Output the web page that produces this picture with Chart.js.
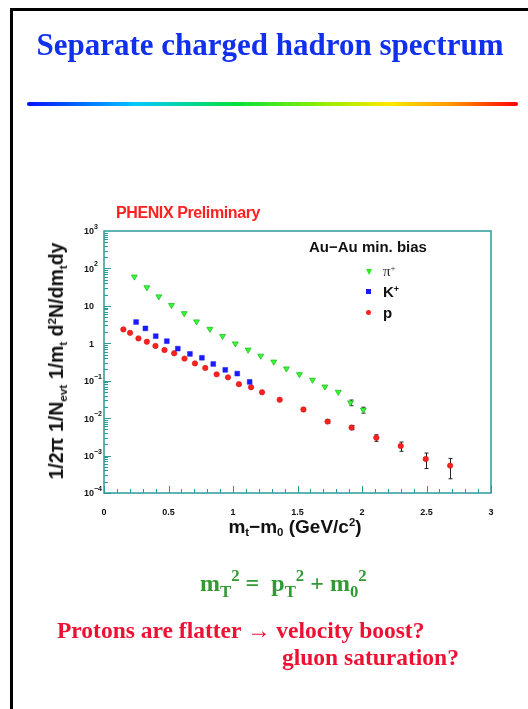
<!DOCTYPE html>
<html>
<head>
<meta charset="utf-8">
<script src="https://cdn.jsdelivr.net/npm/chart.js@4.4.1/dist/chart.umd.min.js"></script>
<style>
  html, body { margin: 0; padding: 0; background: #fff; }
  #page { position: relative; width: 528px; height: 709px; overflow: hidden; }
  #chart { position: absolute; left: 0; top: 0; }
  .txt { position: absolute; white-space: nowrap; }
  .frame-l { position: absolute; left: 10px; top: 8px; width: 3px; height: 710px; background: #000; }
  .frame-t { position: absolute; left: 10px; top: 8px; width: 530px; height: 3px; background: #000; }
  .rule { position: absolute; left: 27px; top: 102px; width: 491px; height: 4px; border-radius: 2px;
    background: linear-gradient(to right, #0010ff 0%, #00c8ff 22%, #00e040 42%, #90ee00 60%, #ffe800 74%, #ff9a00 86%, #ff0000 100%); }
  #title { left: 0; width: 540px; top: 27px; text-align: center; font: bold 31px "Liberation Serif", serif; color: #1030ee; }
  #phenix { left: 116px; top: 204px; font: bold 16px "Liberation Sans", sans-serif; color: #ff2020; letter-spacing: -0.4px; }
  #ytitle { left: 57px; top: 361px; transform: translate(-50%, -50%) rotate(-90deg);
    font: bold 19.5px "Liberation Sans", sans-serif; color: #111; }
  #xtitle { left: 295px; top: 527px; transform: translate(-50%, -50%);
    font: bold 19px "Liberation Sans", sans-serif; color: #111; }
  sub { font-size: 60%; vertical-align: -0.35em; }
  sup { font-size: 60%; vertical-align: 0.6em; }
  #legtitle { left: 309px; top: 238px; font: bold 15px "Liberation Sans", sans-serif; color: #111; }
  .leg { position: absolute; left: 366px; font: bold 15px "Liberation Sans", sans-serif; color: #111; }
  .mk { position: absolute; left: 0; }
  .leg span.t { position: absolute; left: 17px; top: -9px; white-space: nowrap; }
  #formula { left: 200px; top: 566px; font: bold 24px "Liberation Serif", serif; color: #339933; }
  #formula sub, #formula sup { font-size: 70%; }
  .note { font: bold 23.5px "Liberation Serif", serif; color: #ee1133; }
</style>
</head>
<body>
<div id="page">
  <canvas id="chart" width="528" height="709"></canvas>
  <div class="frame-l"></div>
  <div class="frame-t"></div>
  <div class="txt" id="title">Separate charged hadron spectrum</div>
  <div class="rule"></div>
  <div class="txt" id="phenix">PHENIX Preliminary</div>
  <div class="txt" id="ytitle">1/2π 1/N<sub>evt</sub> 1/m<sub>t</sub> d<sup>2</sup>N/dm<sub>t</sub>dy</div>
  <div class="txt" id="xtitle">m<sub>t</sub>−m<sub>0</sub> (GeV/c<sup>2</sup>)</div>
  <div class="txt" id="legtitle">Au−Au min. bias</div>
  <div class="leg" style="top:272px"><span class="mk" style="top:-3px;width:0;height:0;border-left:3px solid transparent;border-right:3px solid transparent;border-top:6px solid #22ee22;"></span><span class="t" style="font:15px 'Liberation Serif',serif;color:#223322;">π<sup>+</sup></span></div>
  <div class="leg" style="top:292px"><span class="mk" style="top:-3px;width:5px;height:5px;background:#1a1aff;"></span><span class="t">K<sup>+</sup></span></div>
  <div class="leg" style="top:313px"><span class="mk" style="top:-3px;width:5px;height:5px;border-radius:50%;background:#ff2020;"></span><span class="t">p</span></div>
  <div class="txt" id="formula">m<sub>T</sub><sup>2</sup> =&nbsp; p<sub>T</sub><sup>2</sup> + m<sub>0</sub><sup>2</sup></div>
  <div class="txt note" style="left:57px;top:617px">Protons are flatter → velocity boost?</div>
  <div class="txt note" style="left:282px;top:644px">gluon saturation?</div>
</div>
<script>
// pi+ spectrum
const piX = [0.235, 0.332, 0.425, 0.523, 0.622, 0.717, 0.821, 0.919, 1.018, 1.117, 1.215, 1.316, 1.414, 1.515, 1.616, 1.712, 1.816, 1.911, 2.010];
const piY = [60, 31, 17.7, 10.4, 6.3, 3.8, 2.4, 1.55, 0.98, 0.67, 0.46, 0.32, 0.21, 0.148, 0.105, 0.069, 0.050, 0.026, 0.0166];
const piErr = [0, 0, 0, 0, 0, 0, 0, 0, 0, 0, 0, 0, 0, 0, 0, 0, 0, 0.0045, 0.003];

// K+ spectrum
const kX = [0.249, 0.321, 0.401, 0.487, 0.572, 0.666, 0.759, 0.847, 0.940, 1.033, 1.129];
const kY = [3.7, 2.5, 1.55, 1.14, 0.72, 0.52, 0.41, 0.28, 0.195, 0.155, 0.093];
const kErr = [0, 0, 0, 0, 0, 0, 0, 0, 0, 0, 0];

// proton spectrum
const pX = [0.150, 0.202, 0.267, 0.332, 0.399, 0.469, 0.544, 0.624, 0.705, 0.785, 0.873, 0.961, 1.046, 1.140, 1.225, 1.362, 1.546, 1.733, 1.919, 2.111, 2.300, 2.494, 2.683];
const pY = [2.35, 1.9, 1.35, 1.1, 0.85, 0.66, 0.54, 0.39, 0.29, 0.22, 0.148, 0.123, 0.081, 0.067, 0.049, 0.031, 0.017, 0.0081, 0.0056, 0.0030, 0.0018, 0.00081, 0.00054];
const pErr = [0, 0, 0, 0, 0, 0, 0, 0, 0, 0, 0, 0, 0, 0, 0, 0, 0.0015, 0.0007, 0.0007, 0.0006, 0.0005, 0.00036, 0.0003];

// axis ticks
const xLabels = [0, 0.5, 1, 1.5, 2, 2.5, 3];
const yDecades = [-4, -3, -2, -1, 0, 1, 2, 3];

function pts(xs, ys, es) {
  return xs.map((x, i) => ({ x: x, y: ys[i], e: es[i] }));
}

const frameColor = '#2a9a9a';

// frame, inward ticks, y labels
const axisPlugin = {
  id: 'axisPlugin',
  afterDraw(chart) {
    const ctx = chart.ctx;
    const a = chart.chartArea;
    const xs = chart.scales.x, ys = chart.scales.y;
    ctx.save();
    ctx.strokeStyle = frameColor;
    ctx.lineWidth = 1.5;
    ctx.strokeRect(a.left, a.top, a.right - a.left, a.bottom - a.top);

    ctx.lineWidth = 1;
    ctx.beginPath();
    // x ticks every 0.1
    for (let i = 0; i <= 30; i++) {
      const px = Math.round(xs.getPixelForValue(i / 10)) + 0.5;
      const len = (i % 5 === 0) ? 7 : 4;
      ctx.moveTo(px, a.bottom);
      ctx.lineTo(px, a.bottom - len);
    }
    // y ticks (log)
    for (let d = -4; d < 3; d++) {
      for (let m = 1; m <= 9; m++) {
        const py = Math.round(ys.getPixelForValue(m * Math.pow(10, d))) + 0.5;
        const len = (m === 1) ? 7 : 4;
        ctx.moveTo(a.left, py);
        ctx.lineTo(a.left + len, py);
      }
    }
    ctx.stroke();

    // y labels
    ctx.fillStyle = '#111';
    ctx.textBaseline = 'middle';
    yDecades.forEach(d => {
      const py = ys.getPixelForValue(Math.pow(10, d));
      let base = '10', ex = String(d).replace('-', '\u2212');
      if (d === 0) { base = '1'; ex = ''; }
      if (d === 1) { ex = ''; }
      ctx.font = 'bold 9px "Liberation Sans", sans-serif';
      ctx.textAlign = 'right';
      ctx.fillText(base, a.left - 10, py + 1);
      if (ex) {
        ctx.font = 'bold 7px "Liberation Sans", sans-serif';
        ctx.textAlign = 'left';
        ctx.fillText(ex, a.left - 10, py - 4);
      }
    });
    ctx.restore();
  },
  beforeDatasetsDraw(chart) {
    const ctx = chart.ctx;
    const ys = chart.scales.y, xs = chart.scales.x;
    ctx.save();
    ctx.strokeStyle = '#222';
    ctx.lineWidth = 1;
    chart.data.datasets.forEach(ds => {
      ds.data.forEach(p => {
        if (!p.e) return;
        const px = Math.round(xs.getPixelForValue(p.x)) + 0.5;
        const lo = Math.max(p.y - p.e, 1e-5);
        const y1 = ys.getPixelForValue(p.y + p.e), y2 = ys.getPixelForValue(lo);
        ctx.beginPath();
        ctx.moveTo(px, y1); ctx.lineTo(px, y2);
        ctx.moveTo(px - 2, y1); ctx.lineTo(px + 2, y1);
        ctx.moveTo(px - 2, y2); ctx.lineTo(px + 2, y2);
        ctx.stroke();
      });
    });
    ctx.restore();
  }
};

new Chart(document.getElementById('chart'), {
  type: 'scatter',
  data: {
    datasets: [
      {
        label: 'π+',
        data: pts(piX, piY, piErr),
        pointStyle: 'triangle',
        rotation: 180,
        pointRadius: 3.4,
        backgroundColor: '#33ff33',
        borderColor: '#22bb22',
        borderWidth: 0.8
      },
      {
        label: 'K+',
        data: pts(kX, kY, kErr),
        pointStyle: 'rect',
        pointRadius: 3.4,
        backgroundColor: '#1a1aff',
        borderColor: '#1a1aff',
        borderWidth: 0.5
      },
      {
        label: 'p',
        data: pts(pX, pY, pErr),
        pointStyle: 'circle',
        pointRadius: 2.7,
        backgroundColor: '#ff2020',
        borderColor: '#cc1010',
        borderWidth: 0.6
      }
    ]
  },
  options: {
    responsive: false,
    animation: false,
    devicePixelRatio: 1,
    layout: { padding: { left: 60, top: 231, right: 37, bottom: 186 } },
    plugins: { legend: { display: false }, tooltip: { enabled: false } },
    scales: {
      x: {
        type: 'linear',
        min: 0,
        max: 3,
        afterFit(s) { s.height = 30; },
        afterBuildTicks(s) { s.ticks = xLabels.map(v => ({ value: v })); },
        grid: { display: false },
        border: { display: false },
        ticks: {
          padding: 6,
          maxRotation: 0,
          color: '#111',
          font: { family: 'Liberation Sans', size: 9, weight: 'bold' },
          callback: v => String(v)
        }
      },
      y: {
        type: 'logarithmic',
        min: 1e-4,
        max: 1e3,
        afterFit(s) { s.width = 44; },
        grid: { display: false },
        border: { display: false },
        ticks: { display: false }
      }
    }
  },
  plugins: [axisPlugin]
});
</script>
</body>
</html>
